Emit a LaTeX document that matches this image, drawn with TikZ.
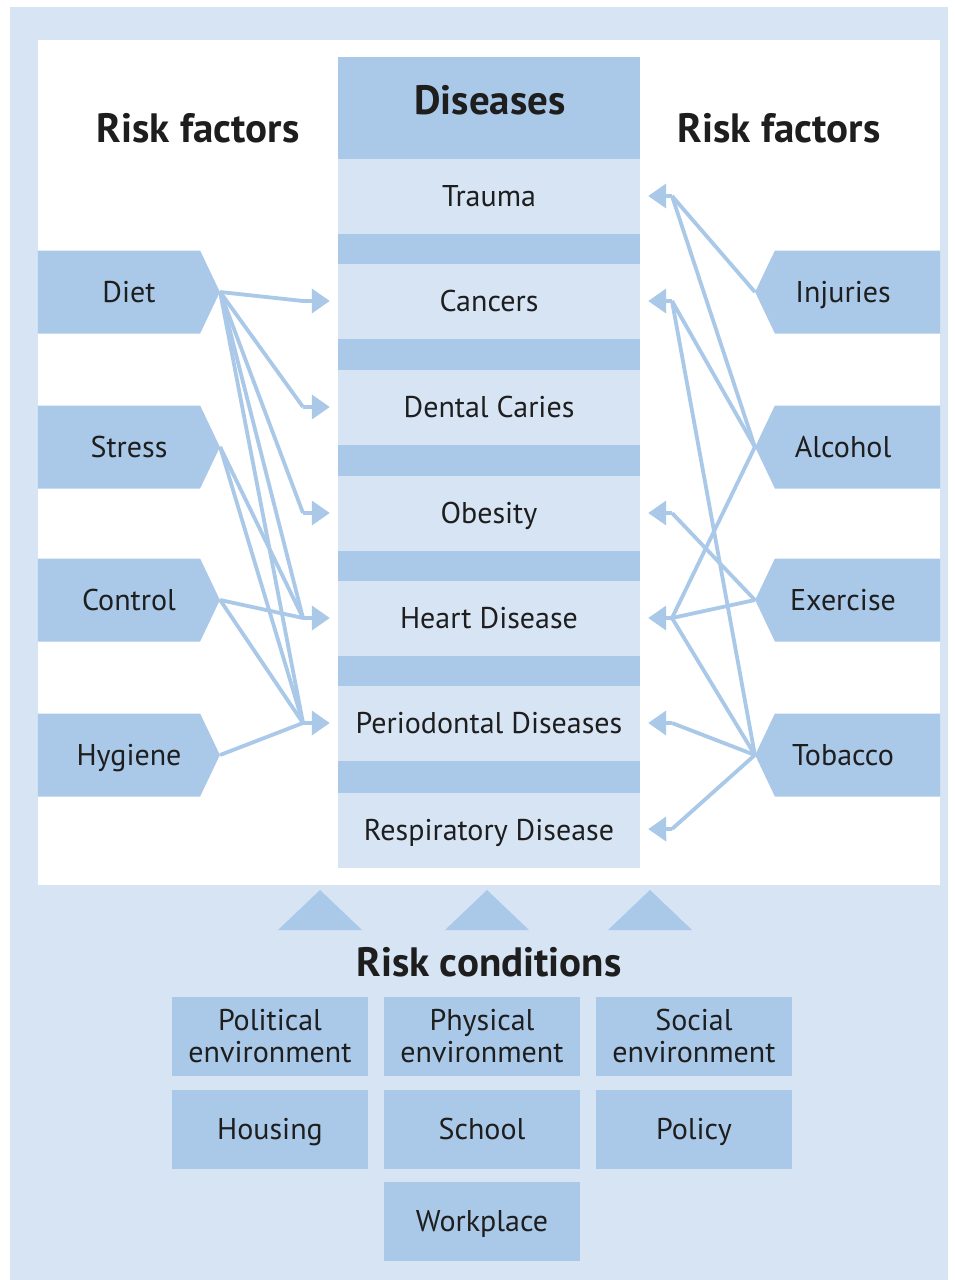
\documentclass[tikz,border=0pt]{standalone}
\usepackage{fontspec}
\setmainfont{PT Sans}
\usetikzlibrary{shapes.symbols,arrows.meta}
\definecolor{paleblue}{HTML}{D6E4F4}
\definecolor{boxblue}{HTML}{AAC9E9}
\definecolor{ink}{HTML}{1E1E1E}

\begin{document}
\begin{tikzpicture}[x=1pt,y=-1pt,
    every node/.style={text=ink,font=\fontsize{30}{32}\selectfont},
    oneline/.style={text height=24pt,text depth=4pt},
    title/.style={font=\fontsize{41}{44}\selectfont\bfseries},
    disease/.style={oneline,fill=paleblue,minimum width=302pt,minimum height=75pt,inner sep=0pt},
    factorL/.style={oneline,signal,signal to=east,signal pointer angle=129,fill=boxblue,
        minimum width=182pt,minimum height=83pt,inner sep=0pt,
        execute at begin node={\hspace*{20pt}}},
    factorR/.style={oneline,signal,signal to=west,signal pointer angle=129,fill=boxblue,
        minimum width=185pt,minimum height=83pt,inner sep=0pt,
        execute at end node={\hspace*{29pt}}},
    cond/.style={fill=boxblue,minimum width=196pt,minimum height=79pt,align=center,inner sep=0pt},
    link/.style={draw=boxblue,line width=3.8pt},
    pointer/.style={link,-{Triangle[width=24pt,length=18pt]},shorten >=8pt}]
		    \useasboundingbox (0,0) rectangle (954,1280);
		    \fill[paleblue] (10,7) rectangle (948,1280);
		    \fill[white] (38,40) rectangle (940,885);
		    \fill[boxblue] (338,57) rectangle (640,868);
		    
			    \node[title] (RL) at (198,128) {Risk factors};
			    \node[title] (RR) at (779,128) {Risk factors};
			    \node[title] (DS) at (490,100) {Diseases};
			    
			    \node[disease] (TR) at (489,196) {Trauma};
			    \node[disease] (CA) at (489,301) {Cancers};
			    \node[disease] (DC) at (489,407) {Dental Caries};
			    \node[disease] (OB) at (489,513) {Obesity};
			    \node[disease] (HD) at (489,618) {Heart Disease};
			    \node[disease] (PD) at (489,723) {Periodontal Diseases};
			    \node[disease] (RD) at (489,830) {Respiratory Disease};
			    
			    \node[factorL] (DI) at (119,292) {Diet};
			    \node[factorL] (ST) at (119,447) {Stress};
			    \node[factorL] (CO) at (119,600) {Control};
			    \node[factorL] (HY) at (119,755) {Hygiene};
			    \node[factorR] (IN) at (857.5,292) {Injuries};
			    \node[factorR] (AL) at (857.5,447) {Alcohol};
			    \node[factorR] (EX) at (857.5,600) {Exercise};
			    \node[factorR] (TO) at (857.5,755) {Tobacco};
			    
			    % where the lines meet before the arrow
			    \coordinate (LCA) at (303,301);
			    \coordinate (LDC) at (303,407);
			    \coordinate (LOB) at (303,513);
			    \coordinate (LHD) at (303,618);
			    \coordinate (LPD) at (303,723);
			    \coordinate (RTR) at (672,196);
			    \coordinate (RCA) at (672,301);
			    \coordinate (ROB) at (672,513);
			    \coordinate (RHD) at (672,618);
			    \coordinate (RPD) at (672,723);
			    \coordinate (RRD) at (672,829);
			    
			    \draw[link] (DI.east)--(LCA);
			    \draw[link] (DI.east)--(LDC);
			    \draw[link] (DI.east)--(LOB);
			    \draw[link] (DI.east)--(LHD);
			    \draw[link] (DI.east)--(LPD);
			    \draw[link] (ST.east)--(LHD);
			    \draw[link] (ST.east)--(LPD);
			    \draw[link] (CO.east)--(LHD);
			    \draw[link] (CO.east)--(LPD);
			    \draw[link] (HY.east)--(LPD);
			    
			    \draw[link] (IN.west)--(RTR);
			    \draw[link] (AL.west)--(RTR);
			    \draw[link] (AL.west)--(RCA);
			    \draw[link] (AL.west)--(RHD);
			    \draw[link] (EX.west)--(ROB);
			    \draw[link] (EX.west)--(RHD);
			    \draw[link] (TO.west)--(RCA);
			    \draw[link] (TO.west)--(RHD);
			    \draw[link] (TO.west)--(RPD);
			    \draw[link] (TO.west)--(RRD);
			    
			    \draw[pointer] (LCA)--(CA);
			    \draw[pointer] (LDC)--(DC);
			    \draw[pointer] (LOB)--(OB);
			    \draw[pointer] (LHD)--(HD);
			    \draw[pointer] (LPD)--(PD);
			    \draw[pointer] (RTR)--(TR);
			    \draw[pointer] (RCA)--(CA);
			    \draw[pointer] (ROB)--(OB);
			    \draw[pointer] (RHD)--(HD);
			    \draw[pointer] (RPD)--(PD);
			    \draw[pointer] (RRD)--(RD);
			    
			    \foreach \x in {320,487,650}
			        \fill[boxblue] (\x-42,930)--(\x,890)--(\x+42,930)--cycle;
			    
			    \node[title] (RC) at (489,962) {Risk conditions};
			    \node[cond] (PO) at (270,1036) {Political\\environment};
			    \node[cond] (PH) at (482,1036) {Physical\\environment};
			    \node[cond] (SO) at (694,1036) {Social\\environment};
			    \node[cond,oneline] (HO) at (270,1129) {Housing};
			    \node[cond,oneline] (SC) at (482,1129) {School};
			    \node[cond,oneline] (PL) at (694,1129) {Policy};
			    \node[cond,oneline] (WP) at (482,1221) {Workplace};
		    \end{tikzpicture}
\end{document}
